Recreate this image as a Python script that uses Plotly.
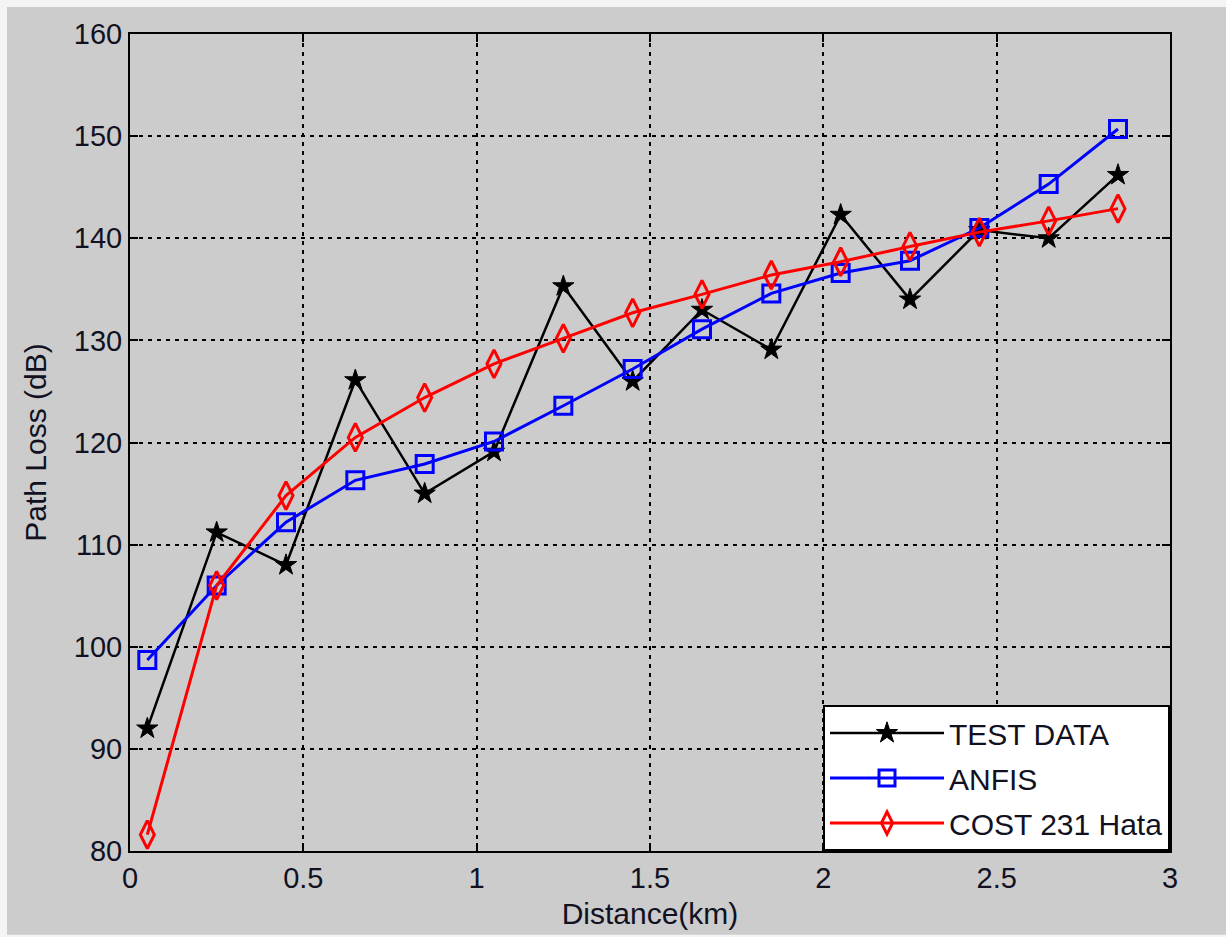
import plotly.graph_objects as go

# Distance from base station (km)
distance_km = [0.05, 0.25, 0.45, 0.65, 0.85, 1.05, 1.25, 1.45, 1.65, 1.85, 2.05, 2.25, 2.45, 2.65, 2.85]

# Path loss (dB)
test_data = [92.0, 111.2, 108.0, 126.1, 115.0, 119.1, 135.3, 126.0, 133.0, 129.1, 142.3, 134.0, 140.8, 140.0, 146.2]
anfis = [98.7, 106.0, 112.2, 116.3, 117.9, 120.1, 123.6, 127.2, 131.1, 134.6, 136.6, 137.8, 141.0, 145.3, 150.7]
cost231_hata = [81.6, 106.0, 114.8, 120.5, 124.4, 127.7, 130.2, 132.7, 134.5, 136.4, 137.7, 139.2, 140.6, 141.7, 142.9]

x_ticks = [0, 0.5, 1, 1.5, 2, 2.5, 3]
x_tick_text = ["0", "0.5", "1", "1.5", "2", "2.5", "3"]
y_ticks = [80, 90, 100, 110, 120, 130, 140, 150, 160]

FONT = "Liberation Sans, Arial, sans-serif"
TXT = "#111122"

fig = go.Figure()

fig.add_trace(go.Scatter(
    x=distance_km, y=test_data, name="TEST DATA", mode="lines+markers",
    legendgroup="g1",
    line=dict(color="black", width=2.5),
    marker=dict(symbol="star", size=16, color="black", line=dict(width=1, color="black")),
))
fig.add_trace(go.Scatter(
    x=distance_km, y=anfis, name="ANFIS", mode="lines+markers",
    legendgroup="g2",
    line=dict(color="#0000ff", width=3),
    marker=dict(symbol="square-open", size=17, color="#0000ff", line=dict(width=3)),
))
fig.add_trace(go.Scatter(
    x=distance_km, y=cost231_hata, name="COST 231 Hata", mode="lines+markers",
    legendgroup="g3",
    line=dict(color="#ff0000", width=3),
    marker=dict(symbol="diamond-tall-open", size=20, color="#ff0000", line=dict(width=3)),
))

axis_common = dict(
    showline=True, linecolor="black", linewidth=2, mirror="ticks",
    ticks="inside", ticklen=8, tickwidth=1.5, tickcolor="black",
    showgrid=True, gridcolor="black", gridwidth=1.5, griddash="4px,5px",
    zeroline=False,
    tickfont=dict(family=FONT, size=29, color=TXT),
)

fig.update_xaxes(
    range=[0, 3], tickvals=x_ticks, ticktext=x_tick_text,
    title=dict(text="Distance(km)", font=dict(family=FONT, size=30, color=TXT), standoff=10),
    **axis_common,
)
fig.update_yaxes(
    range=[80, 160], tickvals=y_ticks,
    title=dict(text="Path Loss (dB)", font=dict(family=FONT, size=30, color=TXT), standoff=18),
    **axis_common,
)

# Grey figure panel with a thin light edge at top and left
fig.add_shape(
    type="rect", xref="paper", yref="paper", layer="below",
    x0=(7 - 130) / 1040, x1=(1226 - 130) / 1040,
    y0=(853 - 937) / 819, y1=(853 - 7) / 819,
    fillcolor="#cccccc", line=dict(width=0),
)

fig.update_layout(
    width=1226, height=937,
    margin=dict(l=130, r=56, t=34, b=84),
    paper_bgcolor="#f4f4f4", plot_bgcolor="white",
    showlegend=True,
    legend=dict(
        x=1, y=0, xanchor="right", yanchor="bottom",
        bgcolor="white", bordercolor="black", borderwidth=2,
        font=dict(family=FONT, size=30, color=TXT),
        itemwidth=114, tracegroupgap=3,
    ),
)

fig.write_html("out.html")
